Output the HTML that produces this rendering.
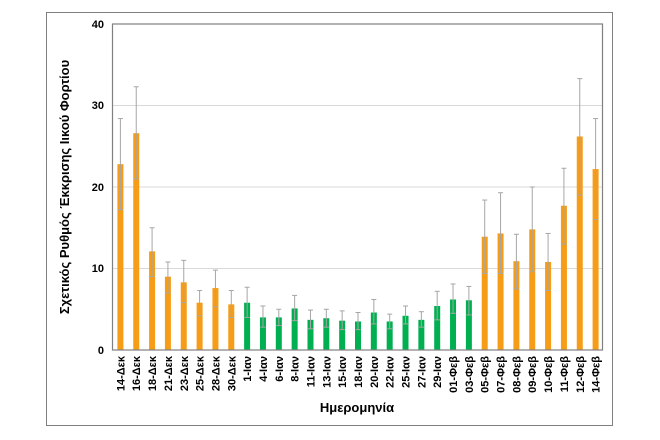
<!DOCTYPE html>
<html><head><meta charset="utf-8"><style>
html,body{margin:0;padding:0;background:#fff;}
svg{display:block;font-family:"Liberation Sans","DejaVu Sans",sans-serif;}
</style></head><body>
<svg width="660" height="440" viewBox="0 0 660 440" xmlns="http://www.w3.org/2000/svg">
<rect x="46.5" y="12.5" width="566" height="413" fill="#fff" stroke="#7f7f7f" stroke-width="1"/>
<g stroke="#d9d9d9" stroke-width="1">
<line x1="112" x2="602" y1="268.5" y2="268.5"/>
<line x1="112" x2="602" y1="187" y2="187"/>
<line x1="112" x2="602" y1="105.5" y2="105.5"/>
</g>
<g id="bars"></g>
<rect x="112.5" y="24" width="490" height="326" fill="none" stroke="#808080" stroke-width="1.2"/>
<g font-size="11" font-weight="bold" fill="#000" text-anchor="end">
<text x="104" y="354">0</text>
<text x="104" y="272">10</text>
<text x="104" y="191">20</text>
<text x="104" y="109">30</text>
<text x="104" y="28">40</text>
</g>
<g id="xl" font-size="11" font-weight="bold" fill="#000" text-anchor="end"></g>
<text x="357" y="412" font-size="13" font-weight="bold" text-anchor="middle">Ημερομηνία</text>
<text transform="translate(69,187) rotate(-90)" font-size="13" font-weight="bold" text-anchor="middle">Σχετικός Ρυθμός Έκκρισης Ιικού Φορτίου</text>
<script>
var d=[["14-Δεκ",22.8,28.4,17.2,0],["16-Δεκ",26.6,32.3,21,0],["18-Δεκ",12.1,15,9,0],["21-Δεκ",9,10.8,7,0],["23-Δεκ",8.3,11,5.8,0],["25-Δεκ",5.8,7.3,4.2,0],["28-Δεκ",7.6,9.8,5.3,0],["30-Δεκ",5.6,7.3,4,0],
["1-Ιαν",5.8,7.7,4,1],["4-Ιαν",4,5.4,2.8,1],["6-Ιαν",4,5,3,1],["8-Ιαν",5.1,6.7,3.6,1],["11-Ιαν",3.7,4.9,2.6,1],["13-Ιαν",3.9,5,2.8,1],["15-Ιαν",3.6,4.8,2.5,1],["18-Ιαν",3.5,4.6,2.5,1],["20-Ιαν",4.6,6.2,3.2,1],["22-Ιαν",3.5,4.4,2.6,1],["25-Ιαν",4.2,5.4,3.2,1],["27-Ιαν",3.7,4.7,2.8,1],["29-Ιαν",5.4,7.2,3.7,1],["01-Φεβ",6.2,8.1,4.5,1],["03-Φεβ",6.1,7.8,4.3,1],
["05-Φεβ",13.9,18.4,9.4,0],["07-Φεβ",14.3,19.3,9.4,0],["08-Φεβ",10.9,14.2,7.5,0],["09-Φεβ",14.8,20,9.6,0],["10-Φεβ",10.8,14.3,7.3,0],["11-Φεβ",17.7,22.3,13,0],["12-Φεβ",26.2,33.3,19,0],["14-Φεβ",22.2,28.4,16,0]];
var ns="http://www.w3.org/2000/svg",b=document.getElementById("bars"),xl=document.getElementById("xl");
function y(v){return 350-v*8.15;}
function el(t,a,p){var e=document.createElementNS(ns,t);for(var k in a)e.setAttribute(k,a[k]);p.appendChild(e);return e;}
d.forEach(function(r,i){var cx=120.4+15.84*i;
el("rect",{x:cx-3,y:y(r[1]),width:6,height:350-y(r[1]),fill:r[4]?"#00b050":"#f79c16"},b);
el("line",{x1:cx,x2:cx,y1:y(r[2]),y2:y(r[3]),stroke:"#a6a6a6","stroke-width":1},b);
el("line",{x1:cx-2.5,x2:cx+2.5,y1:y(r[2]),y2:y(r[2]),stroke:"#a6a6a6","stroke-width":1},b);
el("line",{x1:cx-2.5,x2:cx+2.5,y1:y(r[3]),y2:y(r[3]),stroke:"#a6a6a6","stroke-width":1},b);
var t=el("text",{transform:"translate("+(cx+4)+",356) rotate(-90)"},xl);t.textContent=r[0];});
</script>
</svg>
</body></html>
